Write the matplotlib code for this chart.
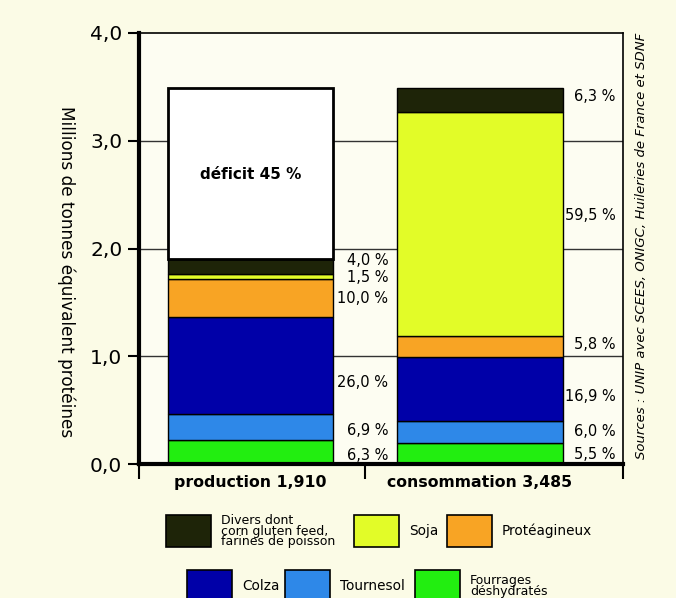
import numpy as np
import matplotlib
matplotlib.use("Agg")
import matplotlib.pyplot as plt
from matplotlib.patches import Rectangle

plt.rcParams['font.family'] = ['DejaVu Sans']

# data (millions de tonnes, shares of consumption 3,485)
categories = ["production 1,910", "consommation 3,485"]
segments = ["Fourrages\ndéshydratés", "Tournesol", "Colza", "Protéagineux", "Soja",
            "Divers dont\ncorn gluten feed,\nfarines de poisson"]
colors = ["#22ee10", "#2e88e8", "#0000a8", "#f8a424", "#e2fc28", "#1e2408"]
total = 3.485
prodShares = [6.3, 6.9, 26.0, 10.0, 1.5, 4.0]
consShares = [5.5, 6.0, 16.9, 5.8, 59.5, 6.3]
prodLabels = ["6,3 %", "6,9 %", "26,0 %", "10,0 %", "1,5 %", "4,0 %"]
consLabels = ["5,5 %", "6,0 %", "16,9 %", "5,8 %", "59,5 %", "6,3 %"]
deficitLabel = "déficit 45 %"
yticks = [0.0, 1.0, 2.0, 3.0, 4.0]
yticklabels = ["0,0", "1,0", "2,0", "3,0", "4,0"]

# label placement (layout only)
prodLabelY = [0.08, 0.31, 0.76, 1.54, 1.73, 1.89]
consLabelY = [0.09, 0.30, 0.63, 1.11, 2.31, 3.41]

W, H = 676, 598
fig = plt.figure(figsize=(W / 100, H / 100), dpi=100)
fig.patch.set_facecolor("#fbfbe6")
ax = fig.add_axes([139 / W, 1 - 464 / H, 484 / W, 431 / H])
ax.set_facecolor("#fdfdf2")

xlim = (-0.486, 1.623)
ax.set_xlim(*xlim)
ax.set_ylim(0, 4.0)

for y in [1.0, 2.0, 3.0]:
    ax.axhline(y, color="#333333", lw=1.0, zorder=1)

barWidth = 0.72
for i, shares in enumerate([prodShares, consShares]):
    bottom = 0.0
    for s, c in zip(shares, colors):
        h = s / 100 * total
        ax.bar(i, h, bottom=bottom, width=barWidth, color=c, edgecolor="black",
               linewidth=1.0, zorder=3)
        bottom += h
    if i == 0:
        ax.bar(i, total - bottom, bottom=bottom, width=barWidth, color="white",
               edgecolor="black", linewidth=2.0, zorder=3)
        ax.text(i, 2.69, deficitLabel, ha="center", va="center",
                fontsize=11, fontweight="bold", zorder=4)

for lab, y in zip(prodLabels, prodLabelY):
    ax.text(0.6, y, lab, ha="right", va="center", fontsize=10.5, zorder=4)
for lab, y in zip(consLabels, consLabelY):
    ax.text(1.59, y, lab, ha="right", va="center", fontsize=10.5, zorder=4)

# spines and ticks
for s in ["top", "right"]:
    ax.spines[s].set_linewidth(1.2)
for s in ["left", "bottom"]:
    ax.spines[s].set_linewidth(3.0)
ax.spines["bottom"].set_zorder(5)
ax.set_yticks(yticks)
ax.set_yticklabels(yticklabels, fontsize=14.5)
ax.tick_params(axis="y", length=8, width=1.5, pad=4)
ax.set_xticks([xlim[0], 0.5, xlim[1]])
ax.set_xticklabels([])
ax.tick_params(axis="x", length=11, width=1.5)
for i, cat in enumerate(categories):
    ax.text(i, -0.1, cat, ha="center", va="top", fontsize=11.3, fontweight="bold")

fig.text(66 / W, 1 - 272 / H, "Millions de tonnes équivalent protéines",
         rotation=-90, ha="center", va="center", fontsize=12.2)
fig.text(641 / W, 1 - 246 / H,
         "Sources : UNIP avec SCEES, ONIGC, Huileries de France et SDNF",
         rotation=90, ha="center", va="center", fontsize=9.5, style="italic")

# legend
legendBoxes = [
    (5, 166, 515), (4, 354, 515), (3, 447, 515),
    (2, 187, 570), (1, 285, 570), (0, 415, 570),
]
for idx, x0, y0 in legendBoxes:
    fig.add_artist(Rectangle((x0 / W, 1 - (y0 + 32) / H), 45 / W, 32 / H,
                             facecolor=colors[idx], edgecolor="black", lw=1.2,
                             transform=fig.transFigure))
    nLines = segments[idx].count("\n") + 1
    fig.text((x0 + 55) / W, 1 - (y0 + 16) / H, segments[idx], ha="left",
             va="center", fontsize=9 if nLines > 1 else 9.8, linespacing=0.8)

fig.savefig("out.png", dpi=100, facecolor=fig.get_facecolor())
